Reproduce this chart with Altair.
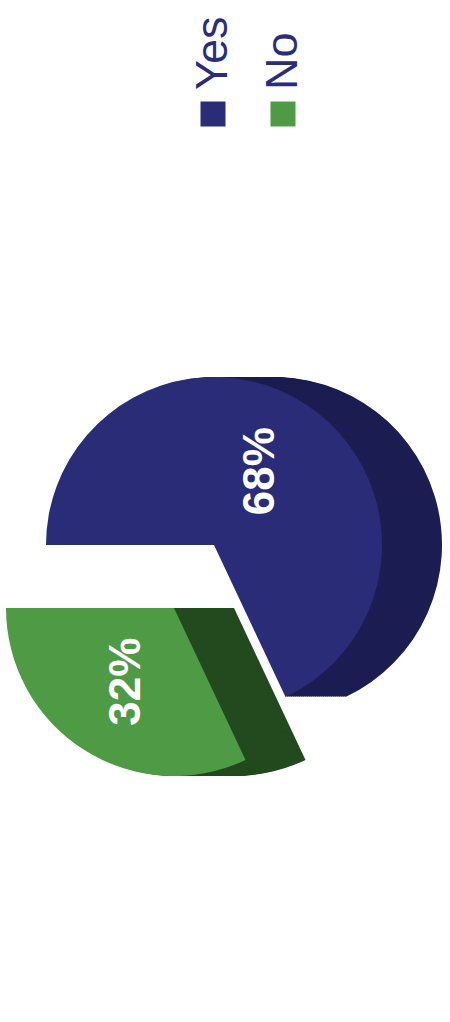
import math
import altair as alt
import pandas as pd

# ---- data ----
categories = ["Yes", "No"]
values = [68, 32]
labels = ["68%", "32%"]
order_idx = [0, 1]

# ---- styles ----
face_colors = ["#2b2c78", "#4e9a45"]
side_colors = ["#1c1d52", "#234a1e"]
legend_text_color = "#2a2d7c"

R = 168          # pie radius
CX, CY = 214, 545
EX, EY = -40, 63  # explode offset of "No"
DEPTH = 60
START = 1.5 * math.pi

df = pd.DataFrame({"cat": categories, "value": values, "label": labels, "i": order_idx})

base = alt.Chart(df).transform_calculate(
    cx=f"{CX} + (datum.cat == 'No' ? {EX} : 0)",
    cy=f"{CY} + (datum.cat == 'No' ? {EY} : 0)",
    face=f"datum.cat == 'Yes' ? '{face_colors[0]}' : '{face_colors[1]}'",
    side=f"datum.cat == 'Yes' ? '{side_colors[0]}' : '{side_colors[1]}'",
)

theta = alt.Theta("value:Q", stack=True,
                  scale=alt.Scale(range=[START, START + 2 * math.pi]))
order = alt.Order("i:Q")

layers = []
for dx in range(DEPTH, 0, -2):
    layers.append(
        base.transform_calculate(px=f"datum.cx + {dx}")
        .mark_arc(radius=R)
        .encode(
            theta=theta,
            order=order,
            color=alt.Color("side:N", scale=None),
            x=alt.X("px:Q", scale=None),
            y=alt.Y("cy:Q", scale=None),
        )
    )

face = base.mark_arc(radius=R).encode(
    theta=theta,
    order=order,
    color=alt.Color("face:N", scale=None),
    x=alt.X("cx:Q", scale=None),
    y=alt.Y("cy:Q", scale=None),
)
layers.append(face)

text = base.mark_text(
    radius=R * 0.52, angle=270, fontSize=44, fontWeight="bold",
    color="white", font="Liberation Sans", align="center", baseline="middle",
).encode(
    theta=theta,
    order=order,
    text="label:N",
    x=alt.X("cx:Q", scale=None),
    y=alt.Y("cy:Q", scale=None),
)
layers.append(text)

# ---- legend (rotated) ----
leg_df = pd.DataFrame({"cat": categories})
leg_base = alt.Chart(leg_df).transform_calculate(
    lx="datum.cat == 'Yes' ? 213 : 283",
    sq_y="114",
    tx_y="90",
    face=f"datum.cat == 'Yes' ? '{face_colors[0]}' : '{face_colors[1]}'",
)
leg_sq = leg_base.mark_square(size=625, opacity=1, filled=True).encode(
    x=alt.X("lx:Q", scale=None),
    y=alt.Y("sq_y:Q", scale=None),
    color=alt.Color("face:N", scale=None),
)
leg_tx = leg_base.mark_text(
    angle=270, fontSize=45, font="Liberation Sans", color=legend_text_color,
    align="left", baseline="middle",
).encode(
    x=alt.X("lx:Q", scale=None),
    y=alt.Y("tx_y:Q", scale=None),
    text="cat:N",
)
layers += [leg_sq, leg_tx]

chart = alt.layer(*layers).properties(
    width=450, height=1022, padding=0,
    autosize=alt.AutoSizeParams(type="none"),
).configure_view(stroke=None)

chart.save("out.html", embed_options={"renderer": "svg", "actions": False})
